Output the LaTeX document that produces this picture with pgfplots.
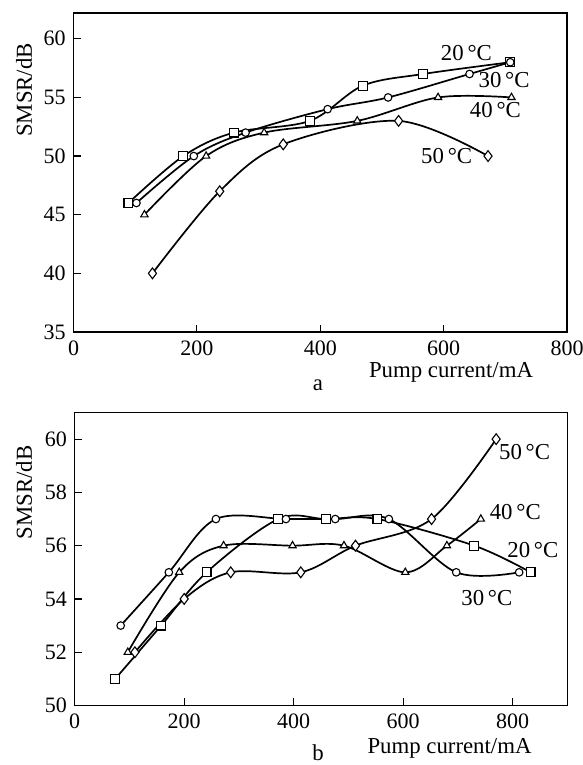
\documentclass[border=0pt]{standalone}
\usepackage{fontspec}
\setmainfont{Liberation Serif}
\usepackage{pgfplots}
\pgfplotsset{compat=1.18}
\pgfplotsset{
  panel/.style={
    anchor=south west, scale only axis, clip=false,
    tick pos=left, tick align=inside, major tick length=7pt,
    axis line style={line width=1.5pt},
    every tick/.style={line width=1.2pt, black},
    /pgf/number format/assume math mode=true,
    ticklabel style={font=\fontsize{22}{26}\selectfont},
    xticklabel style={inner ysep=1pt, yshift=-7.3pt},
  },
  curve/.style={black, line width=1.7pt, smooth, tension=0.55,
    mark options={fill=white, line width=1.1pt, solid}},
  sq/.style={curve, mark=square*, mark size=4.4pt},
  ci/.style={curve, mark=*, mark size=3.8pt},
  tr/.style={curve, mark=triangle*, mark size=4.2pt},
  di/.style={curve, mark=diamond*, mark size=5.4pt},
}
\begin{document}
\fontsize{22.8}{27}\selectfont
\begin{tikzpicture}[x=1pt,y=1pt]
\path[use as bounding box] (0,0) rectangle (583,765);
% ---------- panel a ----------
\begin{axis}[panel, at={(73.5pt,433pt)}, width=493.5pt, height=319pt,
  xmin=0, xmax=800, ymin=35, ymax=62.2,
  xtick={0,200,400,600,800}, ytick={35,40,45,50,55,60}]
\addplot[sq] coordinates {(89,46) (178,50) (260,52) (383,53) (469,56) (567,57) (708,58)};
\addplot[ci] coordinates {(102,46) (195,50) (279,52) (412,54) (510,55) (642,57) (708,58)};
\addplot[tr] coordinates {(115,45) (215,50) (309,52) (460,53) (591,55) (710,55)};
\addplot[di] coordinates {(128,40) (237,47) (340,51) (527,53) (672,50)};
\node at (axis cs:637,58.8) {20\,°C};
\node at (axis cs:698,56.5) {30\,°C};
\node at (axis cs:684,53.9) {40\,°C};
\node at (axis cs:605,50.0) {50\,°C};
\end{axis}
% ---------- panel b ----------
\begin{axis}[panel, at={(74.7pt,59.5pt)}, width=492.6pt, height=293pt,
  xmin=0, xmax=900, ymin=50, ymax=61,
  xtick={0,200,400,600,800}, ytick={50,52,54,56,58,60}]
\addplot[sq] coordinates {(74,51) (158,53) (241,55) (372,57) (459,57) (553,57) (730,56) (833,55)};
\addplot[ci] coordinates {(84,53) (172,55) (258,57) (386,57) (476,57) (574,57) (697,55) (812,55)};
\addplot[tr] coordinates {(97,52) (191,55) (272,56) (398,56) (492,56) (604,55) (680,56) (742,57)};
\addplot[di] coordinates {(110,52) (200,54) (285,55) (413,55) (513,56) (652,57) (770,60)};
\node at (axis cs:822,59.5) {50\,°C};
\node at (axis cs:805,57.25) {40\,°C};
\node at (axis cs:837,55.85) {20\,°C};
\node at (axis cs:753,54.03) {30\,°C};
\end{axis}
% ---------- labels ----------
\node[rotate=90] at (24,675) {SMSR/dB};
\node[rotate=90] at (24,272.5) {SMSR/dB};
\node[anchor=base, inner sep=0pt] at (451,387) {Pump current/mA};
\node[anchor=base, inner sep=0pt] at (318,374) {a};
\node[anchor=base, inner sep=0pt] at (449.5,12) {Pump current/mA};
\node[anchor=base, inner sep=0pt] at (318,5) {b};
\end{tikzpicture}
\end{document}
